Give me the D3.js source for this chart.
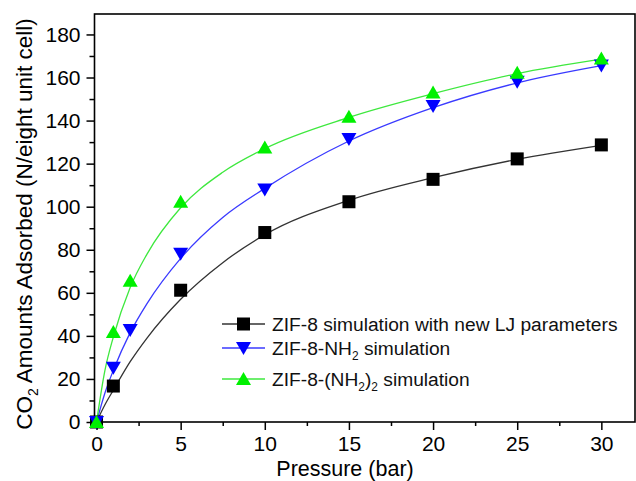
<!DOCTYPE html>
<html>
<head>
<meta charset="utf-8">
<script src="https://cdn.jsdelivr.net/npm/d3@7"></script>
<style>
  body { margin: 0; background: #fff; }
  svg { display: block; font-family: "Liberation Sans", Arial, sans-serif; }
</style>
</head>
<body>
<div id="plot"></div>
<script>
// Data
const pressure = [0, 1, 5, 10, 15, 20, 25, 30];
const pressureNH2 = [0, 1, 2, 5, 10, 15, 20, 25, 30];
const zif8 = [0, 16.7, 61.2, 88, 102.3, 112.7, 122.2, 128.7];
const zif8NH2 = [0, 25.2, 42.7, 78.2, 108, 131.5, 146.8, 158, 165.6];
const zif8NH22 = [0, 41.8, 65.6, 102.3, 127.5, 141.8, 153, 162.2, 168.8];

// fitted curves as seen in the figure
const fitP = [0, 0.5, 1, 2, 3, 5, 7.5, 10, 15, 20, 25, 30];
const fitZif8 = [0, 8, 14.8, 28, 39, 57, 74, 87, 103, 113.5, 122, 128.5];
const fitNH2 = [0, 13.5, 24, 41.5, 55, 76, 95, 108.5, 130.5, 146, 157.5, 165.5];
const fitNH22 = [0, 24, 39.5, 62.5, 78, 99.5, 116, 127, 141.5, 152.5, 161.8, 168.5];

const xTicks = [0, 5, 10, 15, 20, 25, 30];
const yTicks = [0, 20, 40, 60, 80, 100, 120, 140, 160, 180];

const series = [
  { name: "ZIF-8 simulation with new LJ parameters", x: pressure, y: zif8, fy: fitZif8,
    line: "#333333", fill: "#000000", shape: "square" },
  { name: "ZIF-8-NH2 simulation", x: pressureNH2, y: zif8NH2, fy: fitNH2,
    line: "#3a3aff", fill: "#0000ff", shape: "down" },
  { name: "ZIF-8-(NH2)2 simulation", x: pressureNH2, y: zif8NH22, fy: fitNH22,
    line: "#3ee83e", fill: "#00f000", shape: "up" }
];

const W = 636, H = 481;
const mLeft = 94.5, mRight = 635, mTop = 14, mBottom = 422;

const svg = d3.select("#plot").append("svg")
  .attr("width", W)
  .attr("height", H);

const x = d3.scaleLinear().domain([-0.12, 32]).range([mLeft, mRight]);
const y = d3.scaleLinear().domain([0, 189.5]).range([mBottom, mTop]);

// minor ticks
const xMinor = d3.range(0, 32.01, 2.5).filter(v => v % 5 !== 0);
const yMinor = d3.range(10, 190, 20);

// axes
const xAxis = svg.append("g")
  .attr("transform", `translate(0,${mBottom})`)
  .call(d3.axisBottom(x).tickValues(xTicks).tickSize(8).tickPadding(6).tickSizeOuter(0));
svg.append("g")
  .attr("transform", `translate(0,${mBottom})`)
  .call(d3.axisBottom(x).tickValues(xMinor).tickSize(4).tickFormat("").tickSizeOuter(0))
  .select(".domain").remove();

const yAxis = svg.append("g")
  .attr("transform", `translate(${mLeft},0)`)
  .call(d3.axisLeft(y).tickValues(yTicks).tickSize(8).tickPadding(6).tickSizeOuter(0));
svg.append("g")
  .attr("transform", `translate(${mLeft},0)`)
  .call(d3.axisLeft(y).tickValues(yMinor).tickSize(5).tickFormat("").tickSizeOuter(0))
  .select(".domain").remove();

svg.selectAll(".tick line").attr("stroke", "#000").attr("stroke-width", 1.5);
svg.selectAll(".tick text").attr("fill", "#000").style("font-size", "21px")
  .style("font-family", "'Liberation Sans', Arial, sans-serif");
xAxis.selectAll(".tick text").attr("dy", "0.72em");

// frame
svg.append("rect")
  .attr("x", mLeft).attr("y", mTop)
  .attr("width", mRight - mLeft).attr("height", mBottom - mTop)
  .attr("fill", "none").attr("stroke", "#000").attr("stroke-width", 1.6);
svg.selectAll(".domain").remove();

// fit lines
const line = d3.line().curve(d3.curveMonotoneX);
series.forEach(s => {
  svg.append("path")
    .attr("d", line(fitP.map((p, i) => [x(p), y(s.fy[i])])))
    .attr("fill", "none")
    .attr("stroke", s.line)
    .attr("stroke-width", 1.3);
});

function marker(g, shape, cx, cy, fill) {
  if (shape === "square") {
    g.append("rect").attr("x", cx - 6.5).attr("y", cy - 6.5)
      .attr("width", 13).attr("height", 13).attr("fill", fill);
  } else if (shape === "down") {
    g.append("path")
      .attr("d", `M${cx - 7.5},${cy - 6}L${cx + 7.5},${cy - 6}L${cx},${cy + 7}Z`)
      .attr("fill", fill);
  } else {
    g.append("path")
      .attr("d", `M${cx - 7.5},${cy + 6}L${cx + 7.5},${cy + 6}L${cx},${cy - 7}Z`)
      .attr("fill", fill);
  }
}

// markers
series.forEach(s => {
  const g = svg.append("g");
  s.x.forEach((p, i) => marker(g, s.shape, x(p), y(s.y[i]), s.fill));
});

// legend
const legendY = [324, 348, 379];
const legend = svg.append("g");
series.forEach((s, i) => {
  const ly = legendY[i];
  legend.append("line")
    .attr("x1", 222).attr("x2", 265).attr("y1", ly).attr("y2", ly)
    .attr("stroke", s.line).attr("stroke-width", 1.3);
  marker(legend, s.shape, 243.5, ly, s.fill);
});

function subText(sel, parts, size) {
  parts.forEach(p => {
    if (p.sub) {
      sel.append("tspan").text(p.t).attr("baseline-shift", "-40%").style("font-size", (size * 0.62) + "px");
    } else {
      sel.append("tspan").text(p.t);
    }
  });
}

const legendText = [
  [{ t: "ZIF-8 simulation with new LJ parameters" }],
  [{ t: "ZIF-8-NH" }, { t: "2", sub: true }, { t: " simulation" }],
  [{ t: "ZIF-8-(NH" }, { t: "2", sub: true }, { t: ")" }, { t: "2", sub: true }, { t: " simulation" }]
];
legendText.forEach((parts, i) => {
  const t = legend.append("text")
    .attr("x", 272).attr("y", legendY[i] + 6.8)
    .style("font-size", "19.2px").attr("fill", "#111");
  subText(t, parts, 19.2);
});

// axis labels
svg.append("text")
  .attr("x", 345).attr("y", 476)
  .attr("text-anchor", "middle")
  .style("font-size", "21.5px")
  .text("Pressure (bar)");

const yl = svg.append("text")
  .attr("transform", "translate(32,224) rotate(-90)")
  .attr("text-anchor", "middle")
  .style("font-size", "22.5px");
subText(yl, [{ t: "CO" }, { t: "2", sub: true }, { t: " Amounts Adsorbed (N/eight unit cell)" }], 22.5);
</script>
</body>
</html>
